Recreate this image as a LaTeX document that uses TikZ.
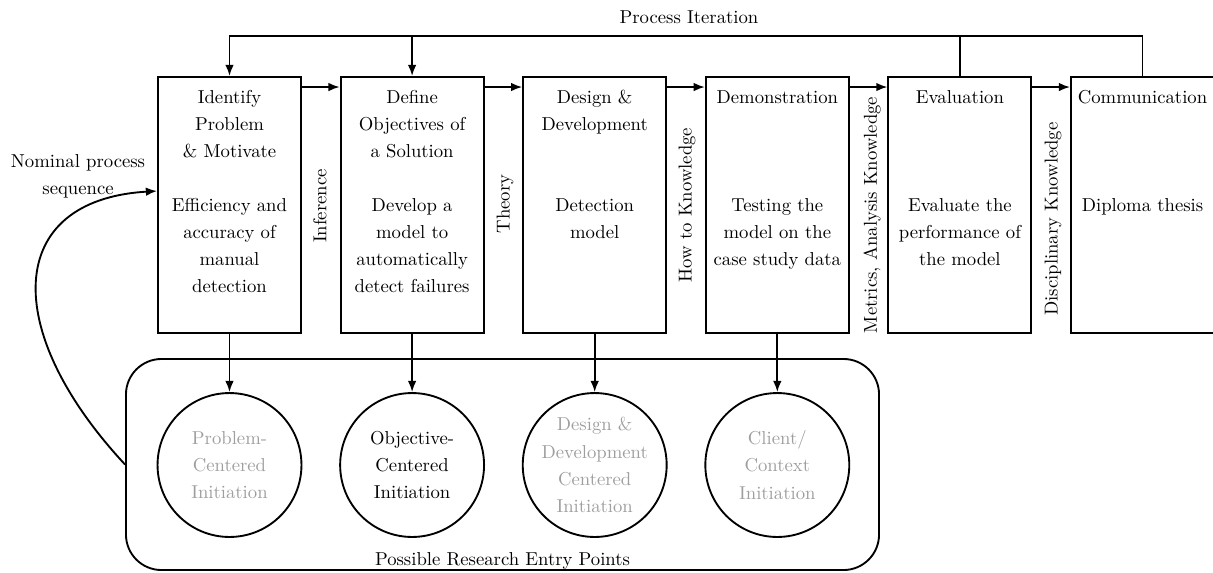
\documentclass[tikz,border=0pt]{standalone}
\usetikzlibrary{arrows.meta,calc}
\begin{document}
\begin{tikzpicture}[x=0.535pt,y=-0.535pt,
  every node/.style={font=\fontsize{10pt}{14.5pt}\selectfont},
  line/.style={line width=1pt},
  arr/.style={line width=1pt,-{Latex[length=6pt,width=4.6pt]}},
  stage/.style={draw,line width=1pt,minimum width=76.5pt,minimum height=137pt,inner sep=0pt},
  ttl/.style={align=center,anchor=north,inner sep=0pt},
  entry/.style={draw,circle,line width=1pt,minimum size=77pt,inner sep=0pt,align=center,text=black!38},
  side/.style={rotate=90,inner sep=0pt}]
\useasboundingbox (0,0) rectangle (1213,572);

% process stages
\node[stage] (b1) at (229.5,205) {};
\node[stage] (b2) at (412.1,205) {};
\node[stage] (b3) at (594.7,205) {};
\node[stage] (b4) at (777.3,205) {};
\node[stage] (b5) at (959.9,205) {};
\node[stage] (b6) at (1142.5,205) {};

% stage titles
\node[ttl] (t1) at (229.5,90) {Identify\\Problem\\\& Motivate};
\node[ttl] (t2) at (412.1,90) {Define\\Objectives of\\a Solution};
\node[ttl] (t3) at (594.7,90) {Design \&\\Development};
\node[ttl] (t4) at (777.3,90) {Demonstration};
\node[ttl] (t5) at (959.9,90) {Evaluation};
\node[ttl] (t6) at (1142.5,90) {Communication};

% stage contents
\node[ttl] (d1) at (229.5,198) {Efficiency and\\accuracy of\\manual\\detection};
\node[ttl] (d2) at (412.1,198) {Develop a\\model to\\automatically\\detect failures};
\node[ttl] (d3) at (594.7,198) {Detection\\model};
\node[ttl] (d4) at (777.3,198) {Testing the\\model on the\\case study data};
\node[ttl] (d5) at (959.9,198) {Evaluate the\\performance of\\the model};
\node[ttl] (d6) at (1142.5,198) {Diploma thesis};

% knowledge labels between stages
\node[side] (l1) at (320,206) {Inference};
\node[side] (l2) at (505,204) {Theory};
\node[side] (l3) at (687,205) {How to Knowledge};
\node[side] (l4) at (872,215) {Metrics, Analysis Knowledge};
\node[side] (l5) at (1053,219) {Disciplinary Knowledge};

% sequence arrows
\foreach \i/\j in {b1/b2,b2/b3,b3/b4,b4/b5,b5/b6}
  \draw[arr] ($(\i.north east)+(0,11)$) -- ($(\j.north west)+(0,11)$);

% process iteration loop
\node[anchor=base] (pi) at (689,23) {Process Iteration};
\draw[arr] (b6.north) -- ++(0,-40) -| (b1.north);
\draw[line] (b5.north) -- ++(0,-40);
\draw[arr] ($(b2.north)+(0,-40)$) -- (b2.north);

% entry points
\node[draw,line width=1pt,rounded corners=19pt,minimum width=402.9pt,minimum height=112.9pt,inner sep=0pt] (zone) at (502.5,464.5) {};
\node[anchor=base] (zl) at (502.5,565) {Possible Research Entry Points};
\node[entry] (c1) at (229.5,465) {Problem-\\Centered\\Initiation};
\node[entry,text=black] (c2) at (412.1,465) {Objective-\\Centered\\Initiation};
\node[entry] (c3) at (594.7,465) {Design \&\\Development\\Centered\\Initiation};
\node[entry] (c4) at (777.3,465) {Client/\\Context\\Initiation};
\draw[arr] (b1.south) -- (c1.north);
\draw[arr] (b2.south) -- (c2.north);
\draw[arr] (b3.south) -- (c3.north);
\draw[arr] (b4.south) -- (c4.north);

% nominal sequence
\node[align=center] (nom) at (78,176) {Nominal process\\sequence};
\draw[arr] (zone.west) .. controls (0,330) and (5,200) .. ($(b1.north west)+(0,115)$);
\end{tikzpicture}
\end{document}
